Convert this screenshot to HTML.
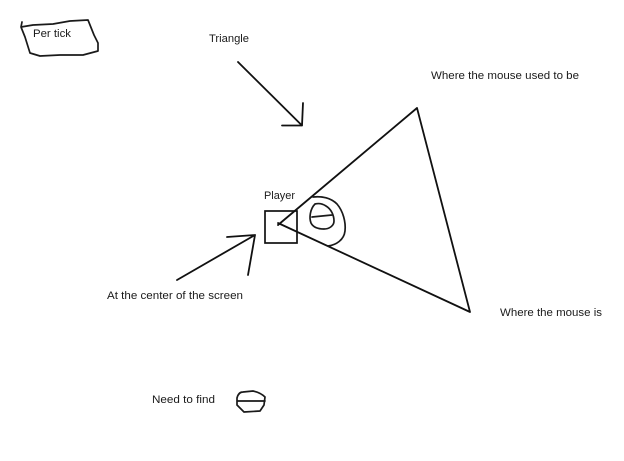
<!DOCTYPE html>
<html>
<head>
<meta charset="utf-8">
<style>
html,body{margin:0;padding:0;background:#fff}
svg{display:block}
text{font-family:"Liberation Sans",sans-serif;font-size:11px;fill:#1a1a1a}
.l{fill:none;stroke:#111;stroke-width:1.8;stroke-linecap:round;stroke-linejoin:round}
.t{fill:none;stroke:#1a1a1a;stroke-width:1.7;stroke-linecap:round;stroke-linejoin:round}
</style>
</head>
<body>
<svg width="624" height="461" viewBox="0 0 624 461" xmlns="http://www.w3.org/2000/svg">
<rect width="624" height="461" fill="#fff"/>
<path class="t" d="M22 22 L21 27 L33 25 L53 24 L70 21 L88 20 L94 35 L98 43 L98 51 L83 55 L60 55 L40 56 L30 53 L25 37 L21 27"/>
<text x="33" y="37" textLength="38" lengthAdjust="spacingAndGlyphs">Per tick</text>
<text x="209" y="42" textLength="40" lengthAdjust="spacingAndGlyphs">Triangle</text>
<path class="l" d="M238 62 L302 125.500 M303 103 L302 125.500 L282 125.500"/>
<text x="431" y="79" textLength="148" lengthAdjust="spacingAndGlyphs">Where the mouse used to be</text>
<path class="l" d="M278 225 L417 108 L470 312 L278 223"/>
<text x="264" y="199" textLength="31" lengthAdjust="spacingAndGlyphs">Player</text>
<rect x="265" y="211" width="32" height="32" fill="none" stroke="#111" stroke-width="1.7"/>
<path class="t" d="M313 197 C322 196 331 198 337 204 C343 211 346 222 345 231 C344 240 336 245 328 246"/>
<path class="t" d="M315 204 C319 203 323 204 326 206 C331 209 334 215 334 221 C334 226 329 229 324 229 C318 229 313 227 311 223 C309 218 310 209 315 204 Z M312 217 L332 215"/>
<path class="l" d="M177 280 L255 235 M227 237 L255 235 L248 275"/>
<text x="107" y="299" textLength="136" lengthAdjust="spacingAndGlyphs">At the center of the screen</text>
<text x="500" y="316" textLength="102" lengthAdjust="spacingAndGlyphs">Where the mouse is</text>
<text x="152" y="403" textLength="63" lengthAdjust="spacingAndGlyphs">Need to find</text>
<path class="t" d="M237 405 L237 398 C238 394 240 392 243 392 L253 391 C258 392 262 394 265 397 L264 405 L260 411 L244 412 Z M237 401 L265 401"/>
</svg>
</body>
</html>
